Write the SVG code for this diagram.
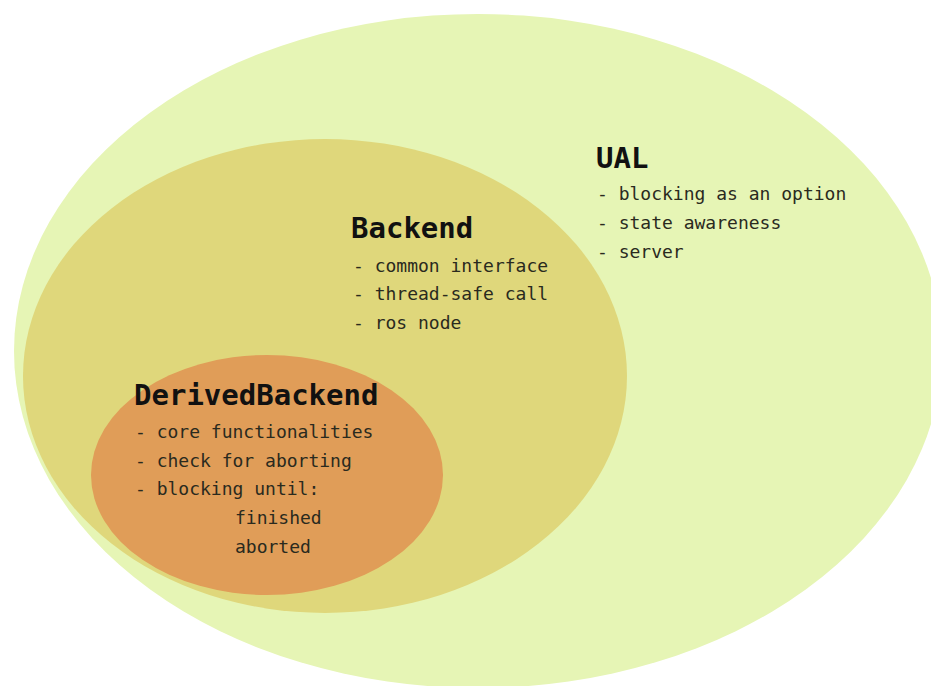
<svg xmlns="http://www.w3.org/2000/svg" width="931" height="686" viewBox="0 0 931 686">
  <style>
    .title { font-family: "DejaVu Sans Mono", "Liberation Mono", monospace; font-weight: bold; font-size: 29px; fill: #111111; }
    .item { font-family: "DejaVu Sans Mono", "Liberation Mono", monospace; font-size: 18px; fill: #2a2a1e; }
  </style>
  <rect width="931" height="686" fill="#ffffff"/>

  <!-- outermost layer -->
  <g id="ual">
    <ellipse cx="478" cy="351" rx="464" ry="337" fill="#e6f5b5"/>
    <text class="title" x="596" y="168">UAL</text>
    <text class="item" x="597" y="200">- blocking as an option</text>
    <text class="item" x="597" y="229">- state awareness</text>
    <text class="item" x="597" y="258">- server</text>
  </g>

  <!-- middle layer -->
  <g id="backend">
    <ellipse cx="325" cy="376" rx="302" ry="237" fill="#dfd77b"/>
    <text class="title" x="351" y="238">Backend</text>
    <text class="item" x="353" y="272">- common interface</text>
    <text class="item" x="353" y="300">- thread-safe call</text>
    <text class="item" x="353" y="329">- ros node</text>
  </g>

  <!-- innermost layer -->
  <g id="derived-backend">
    <ellipse cx="267" cy="475" rx="176" ry="120" fill="#e09d58"/>
    <text class="title" x="134" y="405">DerivedBackend</text>
    <text class="item" x="135" y="438">- core functionalities</text>
    <text class="item" x="135" y="467">- check for aborting</text>
    <text class="item" x="135" y="495">- blocking until:</text>
    <text class="item" x="235" y="524">finished</text>
    <text class="item" x="235" y="553">aborted</text>
  </g>

  <g id="connectors"/>
</svg>
